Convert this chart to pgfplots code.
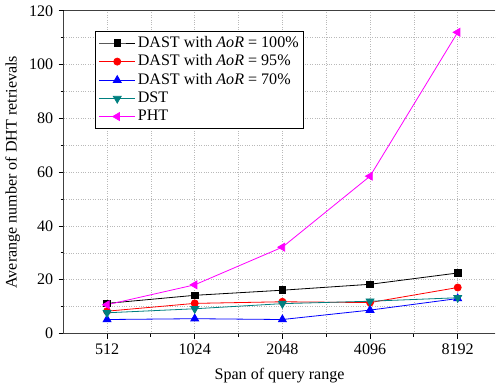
\documentclass[border=0pt]{standalone}
\usepackage{fontspec}
\setmainfont{Liberation Serif}
\usepackage{pgfplots}
\pgfplotsset{compat=1.18}
\definecolor{dstteal}{RGB}{0,128,128}
\definecolor{phtmag}{RGB}{255,0,255}
\begin{document}
\fontsize{16}{19}\selectfont
\begin{tikzpicture}
\begin{axis}[
  scale only axis,
  width=428bp, height=320bp,
  xmin=-0.494, xmax=4.43,
  ymin=0, ymax=120,
  axis x line=box,
  axis y line*=left,
  xtick={0,1,2,3,4},
  xticklabels={512,1024,2048,4096,8192},
  minor x tick num=1,
  ytick={0,20,...,120},
  minor y tick num=1,
  tick align=outside,
  xtick pos=bottom,
  ytick pos=left,
  major tick length=5bp,
  minor tick length=3bp,
  tick style={black, line width=0.8bp},
  axis line style={black!75, line width=1.2bp},
  grid=both,
  major grid style={dotted, gray!55, line width=0.6bp},
  minor grid style={dotted, gray!55, line width=0.6bp},
  /pgf/number format/assume math mode=true,
  ticklabel style={font=\fontsize{16}{19}\selectfont},
  label style={font=\fontsize{16}{19}\selectfont},
  xlabel={Span of query range},
  ylabel={Averange number of DHT retrievals},
  xlabel style={yshift=-2bp},
  ylabel style={yshift=-2bp},
  legend style={at={(0.073,0.938)}, anchor=north west, draw=black, line width=0.8bp,
    font=\fontsize{16}{19}\selectfont, row sep=1bp, inner sep=3bp},
  legend cell align=left,
  legend image code/.code={
    \draw[mark repeat=2,mark phase=2] plot coordinates {(0bp,0bp) (18bp,0bp) (36bp,0bp)};
  },
  every axis plot/.append style={line width=0.8bp},
]
\addplot[black, mark=square*, mark size=3.3bp] coordinates {(0,11.2) (1,14.2) (2,16.1) (3,18.3) (4,22.5)};
\addlegendentry{DAST with \textit{AoR} = 100\%}
\addplot[red, mark=*, mark size=3.5bp] coordinates {(0,8.3) (1,11.2) (2,11.8) (3,11.5) (4,17.1)};
\addlegendentry{DAST with \textit{AoR} = 95\%}
\addplot[blue, mark=triangle*, mark size=4.5bp] coordinates {(0,5.2) (1,5.5) (2,5.2) (3,8.7) (4,13.0)};
\addlegendentry{DAST with \textit{AoR} = 70\%}
\addplot[dstteal, mark=triangle*, mark size=4.5bp, mark options={rotate=180}] coordinates {(0,7.7) (1,9.2) (2,11.1) (3,12.0) (4,13.3)};
\addlegendentry{DST}
\addplot[phtmag, mark=triangle*, mark size=4.5bp, mark options={rotate=90}] coordinates {(0,10.7) (1,18.1) (2,32.1) (3,58.5) (4,112.0)};
\addlegendentry{PHT}
\end{axis}
\end{tikzpicture}
\end{document}
